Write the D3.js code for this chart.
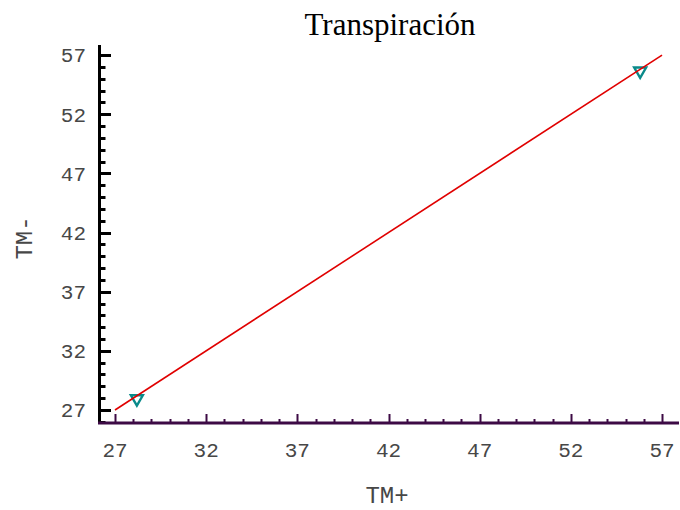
<!DOCTYPE html>
<html>
<head>
<meta charset="utf-8">
<script src="https://cdn.jsdelivr.net/npm/d3@7"></script>
<style>
  html, body { margin: 0; padding: 0; background: #fff; }
  svg { display: block; }
</style>
</head>
<body>
<svg id="chart" width="680" height="510"></svg>
<script>
// Observed pairs: TM+ (x) against TM- (y)
const tmPlus  = [28.2, 55.8];
const tmMinus = [27.95, 55.65];
// Reference line y = x over the data range
const lineX = [27, 57];
const lineY = [27, 57];
// Axis ticks
const majorTicks = [27, 32, 37, 42, 47, 52, 57];
const minorTicks = d3.range(26, 58);

const svg = d3.select("#chart");

const x = d3.scaleLinear().domain([26.15, 57.93]).range([99.5, 679]);
const y = d3.scaleLinear().domain([25.9, 57.85]).range([423, 45]);

const monoFont = "'Liberation Mono', 'Courier New', monospace";
const axisColX = "#3d0a45";
const textCol = "#474747";

// Title
svg.append("text")
  .attr("x", 390).attr("y", 35)
  .attr("text-anchor", "middle")
  .attr("font-family", "'Liberation Serif', 'Times New Roman', serif")
  .attr("font-size", 31)
  .attr("fill", "#000")
  .text("Transpiración");

// Y axis: ticks point into the plot
const yAxis = svg.append("g");
yAxis.append("line")
  .attr("x1", 99.5).attr("x2", 99.5)
  .attr("y1", y.range()[1]).attr("y2", y.range()[0])
  .attr("stroke", "#000").attr("stroke-width", 3);
yAxis.selectAll("line.minor").data(minorTicks.filter(v => !majorTicks.includes(v)))
  .join("line").attr("class", "minor")
  .attr("x1", 99.5).attr("x2", 105.5)
  .attr("y1", d => Math.round(y(d)) + 0.5).attr("y2", d => Math.round(y(d)) + 0.5)
  .attr("stroke", "#000").attr("stroke-width", 3);
yAxis.selectAll("line.major").data(majorTicks)
  .join("line").attr("class", "major")
  .attr("x1", 99.5).attr("x2", 111)
  .attr("y1", d => Math.round(y(d)) + 0.5).attr("y2", d => Math.round(y(d)) + 0.5)
  .attr("stroke", "#000").attr("stroke-width", 3);
yAxis.selectAll("text").data(majorTicks)
  .join("text")
  .attr("x", 86).attr("y", d => y(d))
  .attr("dy", "0.35em")
  .attr("text-anchor", "end")
  .attr("font-family", monoFont)
  .attr("font-size", 21)
  .attr("fill", textCol)
  .text(d => d);

// X axis: ticks point up into the plot
const xAxis = svg.append("g");
xAxis.selectAll("line.minor").data(minorTicks.filter(v => v >= 27 && !majorTicks.includes(v)))
  .join("line").attr("class", "minor")
  .attr("x1", d => Math.round(x(d)) + 0.5).attr("x2", d => Math.round(x(d)) + 0.5)
  .attr("y1", 423).attr("y2", 419)
  .attr("stroke", axisColX).attr("stroke-width", 2);
xAxis.selectAll("line.major").data(majorTicks)
  .join("line").attr("class", "major")
  .attr("x1", d => Math.round(x(d)) + 0.5).attr("x2", d => Math.round(x(d)) + 0.5)
  .attr("y1", 423).attr("y2", 414)
  .attr("stroke", axisColX).attr("stroke-width", 2);
xAxis.append("line")
  .attr("x1", 98).attr("x2", 679)
  .attr("y1", 423).attr("y2", 423)
  .attr("stroke", axisColX).attr("stroke-width", 3);
xAxis.selectAll("text").data(majorTicks)
  .join("text")
  .attr("x", d => x(d)).attr("y", 457)
  .attr("text-anchor", "middle")
  .attr("font-family", monoFont)
  .attr("font-size", 21)
  .attr("fill", textCol)
  .text(d => d);

// Axis titles
svg.append("text")
  .attr("x", 387).attr("y", 503)
  .attr("text-anchor", "middle")
  .attr("font-family", monoFont)
  .attr("font-size", 24)
  .attr("fill", textCol)
  .text("TM+");
svg.append("text")
  .attr("transform", "translate(32,238) rotate(-90)")
  .attr("text-anchor", "middle")
  .attr("font-family", monoFont)
  .attr("font-size", 24)
  .attr("fill", textCol)
  .text("TM-");

// Identity line
const refLine = d3.line().x(d => x(d[0])).y(d => y(d[1]));

// Data points as downward triangles
const tri = d3.symbol().type(d3.symbolTriangle).size(62);
svg.selectAll("path.pt").data(d3.zip(tmPlus, tmMinus))
  .join("path").attr("class", "pt")
  .attr("d", tri)
  .attr("transform", d => `translate(${x(d[0])},${y(d[1])}) rotate(180)`)
  .attr("fill", "none")
  .attr("stroke", "#0a8a8a")
  .attr("stroke-width", 2.4);

// Line drawn over the markers it crosses
svg.append("path")
  .datum(d3.zip(lineX, lineY))
  .attr("d", refLine)
  .attr("fill", "none")
  .attr("stroke", "#e00000")
  .attr("stroke-width", 1.6);
</script>
</body>
</html>
